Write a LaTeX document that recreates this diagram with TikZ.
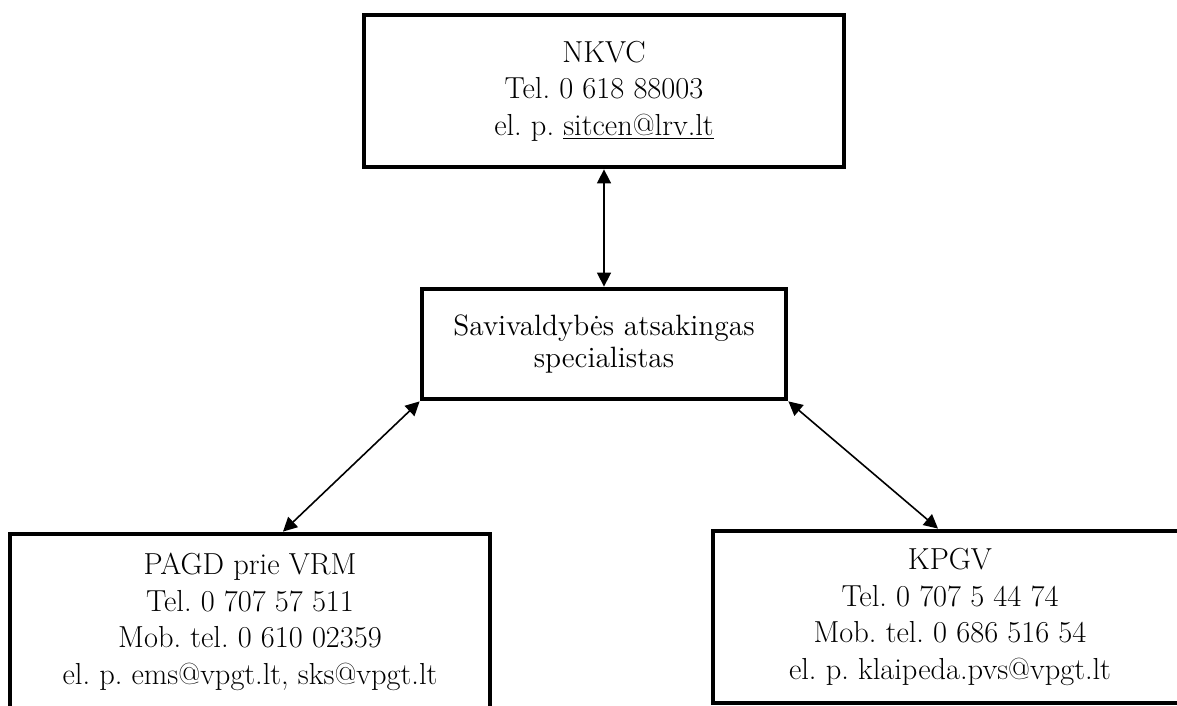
\documentclass[tikz,border=0pt]{standalone}
\usepackage{tikz}
\usetikzlibrary{positioning, arrows.meta}
\frenchspacing

\begin{document}
\begin{tikzpicture}[node distance=2cm,on grid,
    infobox/.style={draw,line width=2.4pt,align=center,minimum width=240pt,minimum height=86pt,
        font=\fontsize{15.2}{18.3}\selectfont},
    link/.style={{Triangle[length=7pt,width=7pt]}-{Triangle[length=7pt,width=7pt]},line width=0.8pt}]
    \useasboundingbox (0,0) rectangle (588.5pt,353pt);
    \clip (0,0) rectangle (588.5pt,353pt);

    \node[draw,line width=2.4pt,align=center,minimum width=182pt,minimum height=55pt,
        font=\fontsize{14.7}{16}\selectfont] (mid) at (302pt,181pt) {Savivaldybės atsakingas\\specialistas};
    \node[infobox,minimum height=76pt] (nkvc) [above=126.5pt of mid] {NKVC\\Tel. 0 618 88003\\el. p. \underline{sitcen@lrv.lt}};
    \node[infobox,minimum height=88pt] (pagd) [below left=139pt and 177pt of mid] {PAGD prie VRM\\Tel. 0 707 57 511\\Mob. tel. 0 610 02359\\el. p. ems@vpgt.lt, sks@vpgt.lt};
    \node[infobox,minimum width=237pt] (kpgv) [below right=136.5pt and 173pt of mid] {KPGV\\Tel. 0 707 5 44 74\\Mob. tel. 0 686 516 54\\el. p. klaipeda.pvs@vpgt.lt};

    \draw[link] (nkvc) -- (mid);
    \draw[link] (mid.south west) -- ([xshift=16.5pt]pagd.north);
    \draw[link] (mid.south east) -- ([xshift=-6pt]kpgv.north);
\end{tikzpicture}
\end{document}
